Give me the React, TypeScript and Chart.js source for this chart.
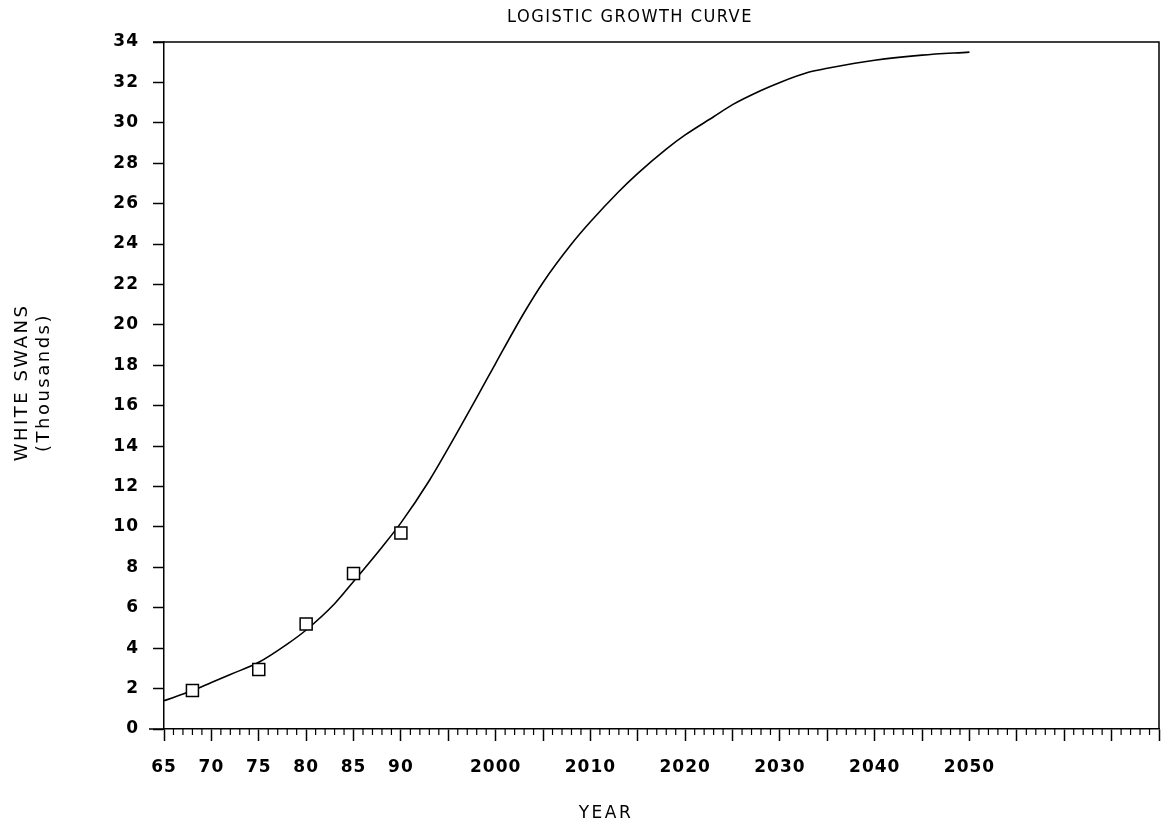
import React, { useEffect, useRef } from 'react';
import { Chart, registerables } from 'chart.js';

Chart.register(...registerables);

const chartTitle = 'LOGISTIC GROWTH CURVE';
const yTitle = ['WHITE SWANS', '(Thousands)'];
const xTitle = 'YEAR';

const curveYears = [1965, 1968, 1970, 1972, 1975, 1978, 1980, 1983, 1985, 1988, 1990, 1993, 1995, 1998, 2000, 2003, 2005, 2008, 2010, 2013, 2015, 2018, 2020, 2023, 2025, 2028, 2030, 2033, 2035, 2040, 2045, 2050];
const curveValues = [1.4, 1.9, 2.3, 2.7, 3.3, 4.2, 4.9, 6.2, 7.3, 9.0, 10.2, 12.3, 13.9, 16.4, 18.1, 20.6, 22.1, 24.0, 25.1, 26.6, 27.5, 28.7, 29.4, 30.3, 30.9, 31.6, 32.0, 32.5, 32.7, 33.1, 33.35, 33.5];

const observedYears = [1968, 1975, 1980, 1985, 1990];
const observedValues = [1.9, 2.95, 5.2, 7.7, 9.7];

const shortLabelYears = [1965, 1970, 1975, 1980, 1985, 1990];
const longLabelYears = [2000, 2010, 2020, 2030, 2040, 2050];

const xMin = 1965;
const xMax = 2070;
const yMin = 0;
const yMax = 34;
const yStep = 2;

const INK = '#000000';
const FONT = "'DejaVu Sans', sans-serif";

const framePlugin = {
  id: 'frame',
  beforeLayout(chart: any) {
    chart.ctx.letterSpacing = '1px';
  },
  beforeDraw(chart: any) {
    const { ctx } = chart;
    ctx.letterSpacing = '1px';
    ctx.save();
    ctx.fillStyle = '#ffffff';
    ctx.fillRect(0, 0, chart.width, chart.height);
    ctx.restore();
  },
  afterDraw(chart: any) {
    const { ctx, chartArea: a, scales } = chart;
    ctx.save();
    ctx.strokeStyle = INK;
    ctx.lineWidth = 1.5;
    ctx.beginPath();
    ctx.moveTo(a.left - 11, a.top);
    ctx.lineTo(a.right, a.top);
    ctx.lineTo(a.right, a.bottom);
    ctx.moveTo(a.left - 15, a.bottom);
    ctx.lineTo(a.left, a.bottom);
    ctx.stroke();

    const xs = scales.x;
    ctx.lineWidth = 1.2;
    ctx.beginPath();
    for (let yr = xMin; yr <= xMax; yr++) {
      if (yr % 5 === 0) continue;
      const px = xs.getPixelForValue(yr);
      ctx.moveTo(px, a.bottom);
      ctx.lineTo(px, a.bottom + 6);
    }
    ctx.stroke();

    ctx.fillStyle = INK;
    ctx.textAlign = 'center';
    ctx.textBaseline = 'middle';

    // chart title
    ctx.letterSpacing = '1.5px';
    ctx.font = "18px 'DejaVu Sans Condensed', 'Liberation Sans Narrow', sans-serif";
    ctx.fillText(chartTitle, 630, 17);

    // x title
    ctx.letterSpacing = '2.5px';
    ctx.font = `17px ${FONT}`;
    ctx.fillText(xTitle, 606, 814);

    // y title (rotated, two lines)
    ctx.font = `18px ${FONT}`;
    const cy = (a.top + a.bottom) / 2 - 3;
    const lineX = [22, 44];
    yTitle.forEach((t, i) => {
      ctx.save();
      ctx.translate(lineX[i], cy);
      ctx.rotate(-Math.PI / 2);
      ctx.fillText(t, 0, 0);
      ctx.restore();
    });
    ctx.restore();
  },
};

export default function App() {
  const canvasRef = useRef<HTMLCanvasElement | null>(null);

  useEffect(() => {
    const canvas = canvasRef.current;
    if (!canvas) return;

    const curve = curveYears.map((x, i) => ({ x, y: curveValues[i] }));
    const observed = observedYears.map((x, i) => ({ x, y: observedValues[i] }));

    const chart = new Chart(canvas, {
      type: 'line',
      data: {
        datasets: [
          {
            label: 'Observed',
            data: observed,
            showLine: false,
            pointStyle: 'rect',
            pointRadius: 8.5,
            pointBackgroundColor: '#ffffff',
            pointBorderColor: INK,
            pointBorderWidth: 1.5,
          },
          {
            label: 'Logistic',
            data: curve,
            borderColor: INK,
            borderWidth: 1.6,
            pointRadius: 0,
            cubicInterpolationMode: 'monotone',
            fill: false,
          },
        ],
      },
      options: {
        animation: false,
        responsive: false,
        layout: { padding: { left: 0, right: 3, top: 42, bottom: 0 } },
        plugins: {
          legend: { display: false },
          tooltip: { enabled: false },
          title: { display: false },
        },
        scales: {
          x: {
            type: 'linear',
            min: xMin,
            max: xMax,
            afterFit: (s: any) => {
              s.height = 92;
              s.paddingLeft = 0;
              s.paddingRight = 0;
            },
            ticks: {
              stepSize: 1,
              autoSkip: false,
              maxRotation: 0,
              minRotation: 0,
              padding: 16,
              color: INK,
              font: { family: FONT, size: 17, weight: 'bold' },
              callback: (v: any) => {
                const n = Number(v);
                if (shortLabelYears.includes(n)) return String(n % 100);
                if (longLabelYears.includes(n)) return String(n);
                return '';
              },
            },
            grid: {
              drawOnChartArea: false,
              tickLength: 12,
              tickWidth: 1.5,
              tickColor: (ctx: any) =>
                ctx.tick && Number(ctx.tick.value) % 5 === 0 ? INK : 'rgba(0,0,0,0)',
            },
            border: { color: INK, width: 1.5 },
            title: { display: false },
          },
          y: {
            min: yMin,
            max: yMax,
            afterFit: (s: any) => {
              s.width = 164;
              s.paddingTop = 0;
              s.paddingBottom = 0;
            },
            ticks: {
              stepSize: yStep,
              padding: 14,
              color: INK,
              font: { family: FONT, size: 17, weight: 'bold' },
            },
            grid: {
              drawOnChartArea: false,
              tickLength: 11,
              tickWidth: 1.5,
              tickColor: INK,
            },
            border: { color: INK, width: 1.5 },
            title: { display: false },
          },
        },
      },
      plugins: [framePlugin],
    } as any);

    return () => {
      chart.destroy();
    };
  }, []);

  return (
    <div style={{ position: 'absolute', left: 0, top: 0, width: 1169, height: 821, background: '#fff' }}>
      <canvas ref={canvasRef} width={1169} height={821} style={{ display: 'block' }} />
    </div>
  );
}
